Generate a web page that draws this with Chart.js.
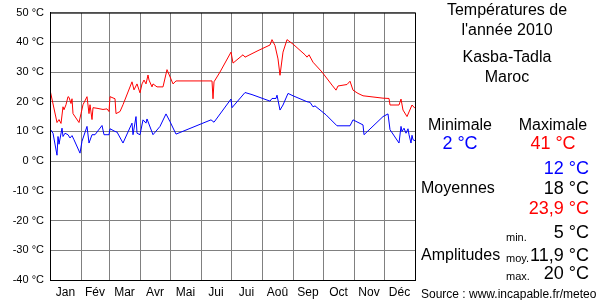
<!DOCTYPE html>
<html>
<head>
<meta charset="utf-8">
<script src="https://cdn.jsdelivr.net/npm/chart.js@4"></script>
<style>
body { margin: 0; background: #fff; font-family: "Liberation Sans", Arial, sans-serif; }
#wrap { position: relative; width: 600px; height: 300px; }
canvas { position: absolute; left: 0; top: 0; }
.t { position: absolute; white-space: nowrap; height: 20px; line-height: 20px; color: #000; }
.c { transform: translateX(-50%); }
.r { transform: translateX(-100%); }
.big { font-size: 18px; }
.mid { font-size: 16px; }
.sm { font-size: 11px; }
.blue { color: #0000ff; }
.red { color: #ff0000; }
</style>
</head>
<body>
<div id="wrap">
  <canvas id="tempChart" width="600" height="300"></canvas>
  <div class="t c mid" style="left:507px;top:0px">Températures de</div>
  <div class="t c mid" style="left:507px;top:20px">l'année 2010</div>
  <div class="t c mid" style="left:507px;top:47px">Kasba-Tadla</div>
  <div class="t c mid" style="left:507px;top:67px">Maroc</div>
  <div class="t c mid" style="left:460px;top:115px">Minimale</div>
  <div class="t c mid" style="left:553px;top:115px">Maximale</div>
  <div class="t c big blue" style="left:460px;top:133px">2 °C</div>
  <div class="t c big red" style="left:553px;top:133px">41 °C</div>
  <div class="t r big blue" style="left:589px;top:158px">12 °C</div>
  <div class="t r big" style="left:589px;top:178px">18 °C</div>
  <div class="t r big red" style="left:589px;top:198px">23,9 °C</div>
  <div class="t mid" style="left:421px;top:178px">Moyennes</div>
  <div class="t sm" style="left:506px;top:227px">min.</div>
  <div class="t r big" style="left:589px;top:222px">5 °C</div>
  <div class="t mid" style="left:421px;top:245px">Amplitudes</div>
  <div class="t sm" style="left:506px;top:248px">moy.</div>
  <div class="t r big" style="left:589px;top:245px">11,9 °C</div>
  <div class="t sm" style="left:506px;top:266px">max.</div>
  <div class="t r big" style="left:589px;top:263px">20 °C</div>
  <div class="t" style="left:421px;top:284px;font-size:12px">Source : www.incapable.fr/meteo</div>
</div>
<script>
// Kasba-Tadla 2010, daily readings (day of year -> °C)
const monthLabels = ['Jan', 'Fév', 'Mar', 'Avr', 'Mai', 'Jui', 'Jui', 'Aoû', 'Sep', 'Oct', 'Nov', 'Déc'];
const monthStarts = [0, 31, 59, 90, 120, 151, 181, 212, 243, 273, 304, 334, 365];

const maxDays = [0, 7, 9, 11, 13, 14, 16, 18, 19, 21, 22, 23, 29, 31, 33, 37, 39, 40, 42, 43, 47, 53, 57, 59, 60, 65, 66, 70, 73, 82, 84, 87, 90, 92, 94, 96, 98, 99, 102, 103, 107, 113, 117, 123, 126, 162, 163, 164, 170, 181, 183, 193, 195, 208, 220, 222, 225, 228, 230, 233, 237, 243, 255, 257, 259, 263, 272, 282, 286, 288, 297, 300, 303, 308, 313, 333, 339, 340, 349, 351, 353, 357, 362, 365];
const maxTemps = [24, 13, 14, 12.7, 18.3, 17.3, 19, 21.7, 21.5, 19.4, 21, 16, 13, 16, 19, 21.7, 16, 19, 14, 18, 17.8, 17.4, 17.6, 16.7, 21.7, 21, 16, 16.7, 19, 26.7, 24, 26, 23, 26, 27.3, 26, 29, 27.3, 25, 26, 25, 25, 30.8, 26, 27, 27, 21, 26.7, 30, 36.7, 33, 35.8, 35, 37.2, 39.1, 40.9, 38.9, 34.4, 28.9, 36.7, 40.9, 39.4, 35.8, 35, 35.8, 33.3, 30, 25.6, 23.9, 25.3, 25.8, 26.9, 23.9, 22.8, 22, 21.2, 21.1, 18.9, 18.9, 20.9, 17.2, 15, 18.9, 17.8];

const minDays = [0, 3, 7, 8, 9, 12, 13, 15, 18, 20, 22, 24, 30, 32, 37, 39, 42, 45, 52, 54, 59, 60, 65, 67, 73, 82, 83, 86, 87, 90, 93, 96, 97, 103, 110, 116, 120, 126, 161, 164, 181, 182, 195, 202, 220, 222, 226, 227, 230, 233, 238, 243, 257, 260, 263, 265, 276, 287, 300, 303, 313, 314, 333, 338, 340, 349, 351, 352, 354, 356, 358, 359, 361, 362, 363, 365];
const minTemps = [10.9, 9.4, 2, 8.3, 5.7, 11.1, 8.3, 9.4, 8.9, 7.8, 8.6, 7.2, 2.7, 6.7, 11.7, 6.1, 8.9, 8.9, 12, 8.9, 8.9, 10.9, 10, 9.8, 6.1, 12.8, 8.9, 15, 9.4, 8.9, 13.9, 12.8, 14.2, 8.9, 11.7, 15.9, 13.3, 9.1, 13.9, 13.1, 20.9, 18, 23.1, 22.4, 20.2, 21.1, 21.1, 22.2, 17.2, 18.9, 22.8, 22, 20, 19.8, 18.3, 18.6, 15.6, 11.9, 11.9, 13.9, 12.2, 8.9, 15, 15.9, 10.6, 6.1, 11.7, 10, 11.1, 9.4, 10.9, 8.9, 6.1, 8.7, 7.2, 6.9];

const monthMids = monthLabels.map((m, i) => (monthStarts[i] + monthStarts[i + 1]) / 2);
const toPoints = (xs, ys) => xs.map((x, i) => ({ x: x, y: ys[i] }));

// black frame round the plot area
const frame = {
  id: 'frame',
  afterDraw(chart) {
    const a = chart.chartArea, c = chart.ctx;
    c.save();
    c.strokeStyle = '#000';
    c.lineWidth = 1;
    c.strokeRect(a.left + 0.5, a.top + 0.5, a.right - a.left, a.bottom - a.top);
    c.restore();
  }
};

Chart.defaults.font.family = '"Liberation Sans", Arial, sans-serif';

new Chart(document.getElementById('tempChart'), {
  type: 'line',
  data: {
    datasets: [
      { label: 'Maximale', data: toPoints(maxDays, maxTemps), borderColor: '#ff0000', borderWidth: 1, pointRadius: 0, tension: 0 },
      { label: 'Minimale', data: toPoints(minDays, minTemps), borderColor: '#0000ff', borderWidth: 1, pointRadius: 0, tension: 0 }
    ]
  },
  options: {
    responsive: false,
    animation: false,
    devicePixelRatio: 1,
    layout: { padding: { left: 0, right: 185, top: 10, bottom: 0 } },
    plugins: { legend: { display: false }, tooltip: { enabled: false } },
    scales: {
      y: {
        min: -40, max: 50,
        ticks: { stepSize: 10, color: '#000', font: { size: 11 }, padding: 6, callback: v => v + ' °C' },
        grid: { color: '#808080', drawTicks: false },
        border: { color: '#000' },
        afterFit: s => { s.width = 50; }
      },
      x: {
        type: 'linear', min: 0, max: 365,
        afterBuildTicks: s => { s.ticks = monthStarts.map(v => ({ value: v })); },
        ticks: { display: false },
        grid: { color: '#808080', drawTicks: false },
        border: { color: '#000' },
        afterFit: s => { s.height = 0; }
      },
      x2: {
        type: 'linear', position: 'bottom', min: 0, max: 365,
        afterBuildTicks: s => { s.ticks = monthMids.map(v => ({ value: v })); },
        ticks: { autoSkip: false, maxRotation: 0, color: '#000', font: { size: 12 }, padding: 5, callback: (v, i) => monthLabels[i] },
        grid: { display: false, drawTicks: false },
        border: { display: false },
        afterFit: s => { s.height = 20; }
      }
    }
  },
  plugins: [frame]
});
</script>
</body>
</html>
